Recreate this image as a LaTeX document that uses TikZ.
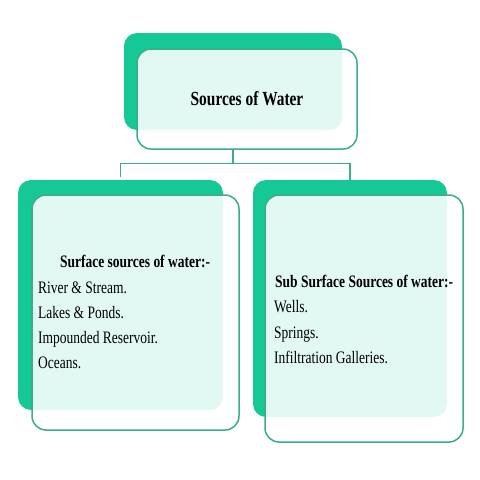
\documentclass[tikz,border=0pt]{standalone}
\usepackage{fontspec}
\setmainfont{Liberation Serif}[FakeStretch=0.77]
\definecolor{bgreen}{HTML}{16C896}
\definecolor{edge}{HTML}{3AAE8C}
\tikzset{
  backbox/.style={draw=none, fill=bgreen, rounded corners=13pt, inner sep=0pt},
  frontbox/.style={draw=edge, line width=1.5pt, fill=white, fill opacity=0.88, text opacity=1, rounded corners=14pt, inner sep=0pt},
  conn/.style={draw=edge, line width=1.4pt},
  body/.style={anchor=base west, inner sep=0pt, font=\fontsize{17.5}{21}\selectfont},
  head/.style={anchor=base west, inner sep=0pt, font=\fontsize{17.5}{21}\selectfont\bfseries},
}
\begin{document}
\begin{tikzpicture}[x=1pt,y=-1pt]
\useasboundingbox (0,0) rectangle (480,480);
% top group
\node[backbox, minimum width=218pt, minimum height=97pt] (tb) at (233,81.5) {};
\node[frontbox, minimum width=220pt, minimum height=100pt, font=\fontsize{20}{24}\selectfont\bfseries] (tf) at (247,99) {Sources of Water};
% left group
\node[backbox, minimum width=205pt, minimum height=230pt] (lb) at (120.5,295) {};
\node[frontbox, minimum width=207pt, minimum height=235pt] (lf) at (135.5,312.5) {};
% right group
\node[backbox, minimum width=194pt, minimum height=237pt] (rb) at (350,298.5) {};
\node[frontbox, minimum width=198pt, minimum height=247pt] (rf) at (364,318.5) {};
% connectors
\draw[conn] (tb.center |- tf.south) -- ++(0,14) coordinate (j);
\draw[conn, shorten <=3pt] (lb.north) -- (lb.north |- j) -- (rb.north |- j) -- (rb.north);
% left texts
\node[head] (l0) at (60,267) {Surface sources of water:-};
\node[body] (l1) at (38,293) {River \& Stream.};
\node[body] (l2) at (38,318) {Lakes \& Ponds.};
\node[body] (l3) at (38,343) {Impounded Reservoir.};
\node[body] (l4) at (38,368) {Oceans.};
% right texts
\node[head] (r0) at (275,287) {Sub Surface Sources of water:-};
\node[body] (r1) at (274,312) {Wells.};
\node[body] (r2) at (274,338) {Springs.};
\node[body] (r3) at (274,363) {Infiltration Galleries.};
\end{tikzpicture}
\end{document}
